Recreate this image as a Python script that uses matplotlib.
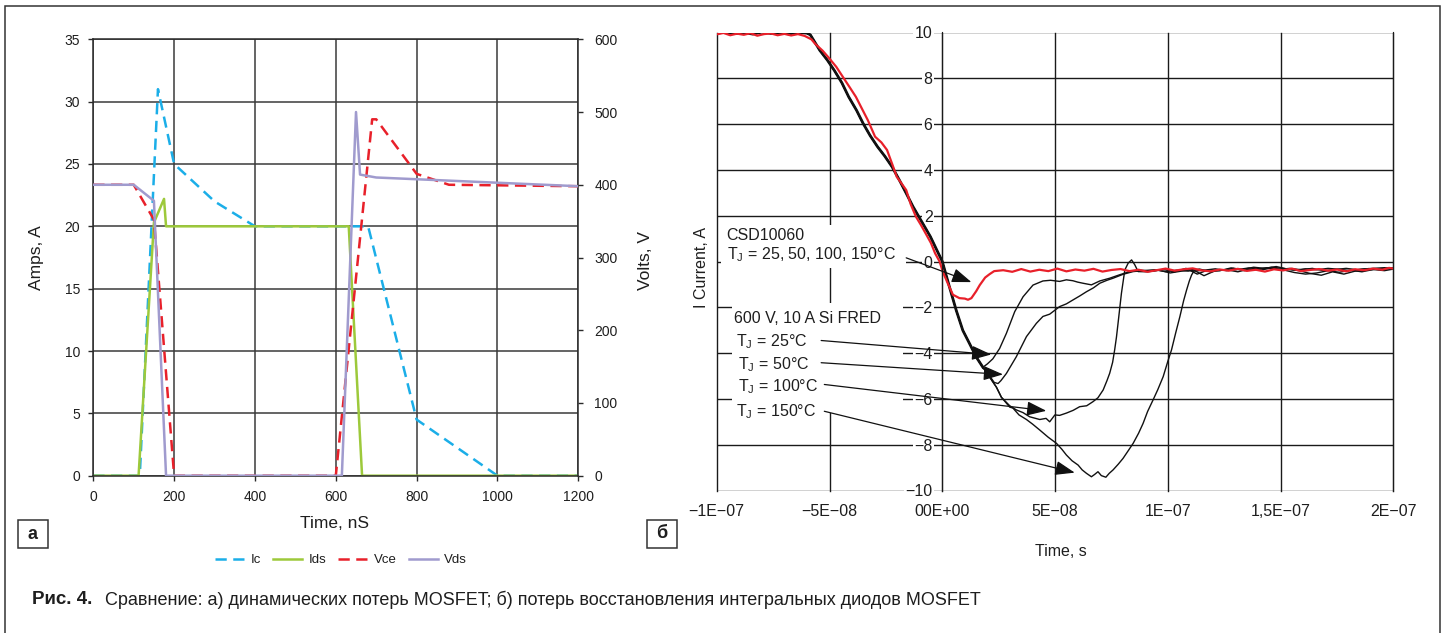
import numpy as np
import matplotlib
matplotlib.use('Agg')
import matplotlib.pyplot as plt
from matplotlib.patches import Rectangle

plt.rcParams['font.family'] = ['Liberation Sans', 'DejaVu Sans']
plt.rcParams['mathtext.fontset'] = 'custom'
plt.rcParams['mathtext.rm'] = 'Liberation Sans'
plt.rcParams['axes.unicode_minus'] = True

W, H = 1444, 633

# ---------- (а) MOSFET / IGBT switching waveforms ----------
ic_t = [0, 115, 160, 200, 300, 400, 680, 800, 1000, 1200]
ic_a = [0, 0, 31, 25, 22, 20, 20, 4.5, 0, 0]

ids_t = [0, 112, 150, 175, 180, 632, 665, 1200]
ids_a = [0, 0, 20.3, 22.2, 20, 20, 0, 0]

vce_t = [0, 100, 150, 200, 600, 690, 700, 800, 880, 1200]
vce_v = [400, 400, 352, 0, 0, 490, 490, 415, 400, 398]

vds_t = [0, 100, 150, 180, 615, 650, 660, 700, 1200]
vds_v = [400, 400, 378, 0, 0, 500, 414, 410, 398]

# ---------- (б) diode reverse recovery, time in units of 1e-8 s ----------
csd_x = [-10.0, -9.7, -9.4, -9.1, -8.8, -8.5, -8.2, -7.9, -7.6, -7.3, -7.0, -6.7,
         -6.4, -6.1, -5.8, -5.64, -5.3, -5.0, -4.7, -4.36, -4.1, -3.83, -3.55, -3.3,
         -2.98, -2.7, -2.45, -2.2, -2.02, -1.8, -1.6, -1.4, -1.17, -0.95, -0.74, -0.5,
         -0.32, -0.12, 0.03, 0.25, 0.47, 0.76, 1.0, 1.14, 1.29, 1.36, 1.5, 1.66, 1.9,
         2.1, 2.3, 2.7, 3.1, 3.5, 3.9, 4.3, 4.7, 5.1, 5.5, 5.9, 6.3, 6.7, 7.1, 7.5,
         7.9, 8.3, 8.7, 9.1, 9.5, 9.9, 10.3, 10.7, 11.1, 11.5, 11.9, 12.3, 12.7, 13.1,
         13.5, 13.9, 14.3, 14.7, 15.1, 15.5, 15.9, 16.3, 16.7, 17.1, 17.5, 17.9, 18.3,
         18.7, 19.1, 19.5, 19.8, 20.0]
csd_y = [9.92, 9.98, 9.88, 9.95, 9.9, 9.97, 9.86, 9.93, 9.96, 9.88, 9.94, 9.87,
         9.93, 9.85, 9.7, 9.51, 9.2, 8.86, 8.5, 7.99, 7.6, 7.19, 6.65, 6.17,
         5.45, 5.2, 4.87, 4.2, 3.7, 3.4, 3.12, 2.5, 1.96, 1.6, 1.23, 0.8,
         0.36, 0.0, -0.47, -0.97, -1.45, -1.6, -1.62, -1.67, -1.6, -1.5, -1.3, -1.03, -0.7,
         -0.55, -0.42, -0.38, -0.45, -0.33, -0.44, -0.36, -0.42, -0.31, -0.43, -0.35, -0.4, -0.32, -0.44, -0.37,
         -0.33, -0.42, -0.36, -0.45, -0.38, -0.31, -0.4, -0.34, -0.3, -0.39, -0.43, -0.35, -0.4, -0.32,
         -0.41, -0.36, -0.44, -0.34, -0.39, -0.31, -0.42, -0.37, -0.33, -0.4, -0.35, -0.43, -0.34,
         -0.38, -0.31, -0.36, -0.28, -0.31]

# common falling edge of the Si FRED traces
fred_x = [-10.0, -9.6, -9.2, -8.8, -8.4, -8.0, -7.6, -7.2, -6.8, -6.4, -6.0, -5.85,
          -5.43, -5.1, -4.79, -4.45, -4.15, -3.8, -3.51, -3.2, -2.87, -2.55, -2.23,
          -1.9, -1.6, -1.3, -0.96, -0.53, 0.0, 0.32, 0.62, 0.91, 1.21, 1.51, 1.8]
fred_y = [9.97, 10.02, 9.95, 10.0, 9.93, 10.02, 9.96, 10.0, 9.94, 10.01, 9.97, 9.9,
          9.22, 8.8, 8.35, 7.8, 7.19, 6.6, 6.03, 5.5, 5.01, 4.6, 4.14,
          3.55, 2.98, 2.4, 1.82, 1.09, 0.0, -1.12, -2.14, -3.01, -3.59, -4.18, -4.62]

t25_x = [2.0, 2.24, 2.54, 2.84, 3.21, 3.58, 4.02, 4.46, 4.8, 5.2, 5.5, 5.79, 6.0, 6.24,
         6.61, 6.98, 7.42, 7.86, 8.31, 8.8, 9.3, 9.8, 10.3, 10.8, 11.3, 11.8, 12.3,
         12.8, 13.3, 13.8, 14.3, 14.8, 15.3, 15.8, 16.3, 16.8, 17.3, 17.8, 18.3, 18.8,
         19.3, 19.8, 20.0]
t25_y = [-4.47, -4.25, -3.8, -3.14, -2.19, -1.54, -1.03, -0.85, -0.82, -0.87, -0.8, -0.84, -0.9, -0.95,
         -1.02, -0.85, -0.73, -0.58, -0.44, -0.38, -0.42, -0.35, -0.45, -0.3, -0.55, -0.36, -0.4,
         -0.28, -0.35, -0.25, -0.3, -0.22, -0.33, -0.4, -0.52, -0.6, -0.45, -0.55, -0.42, -0.38,
         -0.33, -0.3, -0.28]

t50_x = [2.1, 2.3, 2.47, 2.6, 2.84, 3.28, 3.73, 4.17, 4.46, 4.76, 5.2, 5.5, 5.79, 6.1,
         6.39, 6.7, 6.98, 7.3, 7.57, 8.01, 8.46, 8.9, 9.4, 9.9, 10.4, 10.9, 11.4, 11.9,
         12.4, 12.9, 13.4, 13.9, 14.4, 14.9, 15.4, 15.9, 16.4, 16.9, 17.4, 17.9, 18.4,
         18.9, 19.4, 20.0]
t50_y = [-5.0, -5.28, -5.33, -5.2, -4.89, -4.16, -3.28, -2.7, -2.4, -2.3, -1.97, -1.85, -1.68, -1.5,
         -1.32, -1.15, -0.95, -0.82, -0.73, -0.56, -0.44, -0.4, -0.36, -0.44, -0.38, -0.42, -0.33, -0.45,
         -0.38, -0.3, -0.4, -0.33, -0.27, -0.35, -0.3, -0.36, -0.3, -0.4, -0.35, -0.3, -0.36,
         -0.31, -0.35, -0.3]

t100_x = [2.1, 2.4, 2.62, 2.99, 3.28, 3.58, 3.87, 4.32, 4.6, 4.76, 4.99, 5.2, 5.5, 5.8,
          6.09, 6.4, 6.68, 6.9, 7.13, 7.3, 7.42, 7.55, 7.64, 7.72, 7.79, 7.87, 7.94, 8.09,
          8.24, 8.39, 8.53, 8.68, 9.1, 9.6, 10.1, 10.6, 11.1, 11.6, 12.1, 12.6, 13.1, 13.6,
          14.1, 14.6, 15.1, 15.6, 16.1, 16.6, 17.1, 17.6, 18.1, 18.6, 19.1, 19.6, 20.0]
t100_y = [-5.05, -5.49, -5.93, -6.3, -6.48, -6.6, -6.78, -6.9, -6.85, -7.0, -6.7, -6.72, -6.62, -6.5,
          -6.34, -6.3, -6.12, -5.95, -5.61, -5.2, -4.88, -4.4, -3.86, -3.3, -2.7, -2.0, -1.39, -0.37,
          -0.07, 0.07, -0.14, -0.44, -0.45, -0.38, -0.5, -0.42, -0.35, -0.62, -0.4, -0.36, -0.45, -0.33,
          -0.38, -0.28, -0.36, -0.48, -0.55, -0.5, -0.4, -0.47, -0.38, -0.45, -0.35, -0.4, -0.33]

t150_x = [2.1, 2.4, 2.62, 2.99, 3.13, 3.4, 3.73, 4.0, 4.32, 4.69, 5.06, 5.3, 5.5, 5.75,
          6.02, 6.2, 6.39, 6.61, 6.75, 6.9, 7.05, 7.25, 7.4, 7.57, 7.8, 8.01, 8.25, 8.46,
          8.7, 8.9, 9.1, 9.34, 9.55, 9.79, 10.0, 10.16, 10.35, 10.53, 10.7, 10.83, 10.95,
          11.05, 11.15, 11.6, 12.1, 12.6, 13.1, 13.6, 14.1, 14.6, 15.1, 15.6, 16.1, 16.6,
          17.1, 17.6, 18.1, 18.6, 19.1, 19.6, 20.0]
t150_y = [-5.05, -5.49, -5.93, -6.36, -6.4, -6.7, -6.9, -7.1, -7.36, -7.67, -7.94, -8.2, -8.45, -8.7,
          -8.89, -9.1, -9.25, -9.4, -9.3, -9.18, -9.35, -9.42, -9.25, -9.1, -8.85, -8.6, -8.25, -7.94,
          -7.5, -7.07, -6.55, -6.05, -5.6, -5.03, -4.35, -3.86, -3.1, -2.41, -1.7, -1.24, -0.85,
          -0.59, -0.42, -0.38, -0.32, -0.4, -0.35, -0.28, -0.33, -0.25, -0.3, -0.38, -0.32, -0.36,
          -0.3, -0.34, -0.4, -0.33, -0.3, -0.27, -0.3]

x_ticklabels = ['\u22121E\u221207', '\u22125E\u221208', '00E+00', '5E\u221208',
                '1E\u221207', '1,5E\u221207', '2E\u221207']

C_IC, C_IDS, C_VCE, C_VDS = '#1BAEE8', '#9DC93B', '#E8202A', '#A09BCE'
GRID = '#3a3a3a'
TXT = '#1e1e1e'

fig = plt.figure(figsize=(W / 100, H / 100), dpi=100)


def fbox(x0, y0, x1, y1):
    # pixel box (top-left origin) -> figure rect
    return [x0 / W, 1 - y1 / H, (x1 - x0) / W, (y1 - y0) / H]


# ===== left chart =====
ax1 = fig.add_axes(fbox(93.3, 39.3, 578.3, 475.7))
ax1.set_xlim(0, 1200)
ax1.set_ylim(0, 35)
ax1.set_xticks(range(0, 1201, 200))
ax1.set_yticks(range(0, 36, 5))
ax1.set_axisbelow(True)
ax1.grid(True, color=GRID, lw=1.1)
for s in ax1.spines.values():
    s.set_color('#2a2a2a')
    s.set_linewidth(1.1)
ax1.tick_params(direction='out', length=3.6, width=1, colors='#2a2a2a',
                labelsize=10, labelcolor=TXT)
ax1.tick_params(axis='y', pad=6)
ax1.tick_params(axis='x', pad=7)

ax2 = ax1.twinx()
ax2.set_ylim(0, 600)
ax2.set_yticks(range(0, 601, 100))
ax2.tick_params(direction='out', length=3.6, width=1, colors='#2a2a2a',
                labelsize=10, labelcolor=TXT, pad=8)
for s in ax2.spines.values():
    s.set_visible(False)

l_ic, = ax1.plot(ic_t, ic_a, color=C_IC, lw=1.8, dashes=(4.5, 2.6), label='Ic')
l_ids, = ax1.plot(ids_t, ids_a, color=C_IDS, lw=1.8, label='Ids')
l_vce, = ax2.plot(vce_t, vce_v, color=C_VCE, lw=1.8, dashes=(4.5, 2.6), label='Vce')
l_vds, = ax2.plot(vds_t, vds_v, color=C_VDS, lw=1.8, label='Vds')

fig.text(37 / W, 1 - 258 / H, 'Amps, A', rotation=90, ha='center', va='center',
         fontsize=12.5, color=TXT)
fig.text(646 / W, 1 - 261 / H, 'Volts, V', rotation=90, ha='center', va='center',
         fontsize=12.5, color=TXT)
fig.text(335 / W, 1 - 523 / H, 'Time, nS', ha='center', va='center',
         fontsize=12.5, color=TXT)

fig.legend(handles=[l_ic, l_ids, l_vce, l_vds], loc='center',
           bbox_to_anchor=(341 / W, 1 - 560 / H), ncol=4, frameon=False,
           fontsize=9.5, handlelength=2.2, handletextpad=0.5, columnspacing=0.9,
           labelcolor=TXT)

# ===== right chart =====
ax3 = fig.add_axes(fbox(716.7, 32.5, 1393.5, 490.5))
ax3.set_xlim(-1e-7, 2e-7)
ax3.set_ylim(-10, 10)
ax3.set_xticks(np.linspace(-1e-7, 2e-7, 7))
ax3.set_xticklabels(x_ticklabels)
ax3.set_yticks(range(-10, 11, 2))
ax3.set_axisbelow(True)
ax3.grid(True, color='#1a1a1a', lw=1.0)
for gl in ax3.get_xgridlines() + ax3.get_ygridlines():
    gl.set_clip_on(False)
ax3.spines['left'].set_position(('data', 0))
ax3.spines['left'].set_color('#1a1a1a')
ax3.spines['right'].set_color('#1a1a1a')
ax3.spines['top'].set_visible(False)
ax3.spines['bottom'].set_visible(False)
ax3.tick_params(axis='both', length=0, labelsize=11.5, labelcolor=TXT)
ax3.tick_params(axis='x', pad=10)
ax3.tick_params(axis='y', pad=7)
for lab in ax3.get_yticklabels():
    lab.set_bbox(dict(facecolor='white', edgecolor='none', pad=1.0))

# white backgrounds behind the annotation blocks
ax3.add_patch(Rectangle((-9.82e-8, -0.3), 8.22e-8, 1.9, facecolor='white',
                        edgecolor='none', zorder=1))
ax3.add_patch(Rectangle((-9.33e-8, -6.62), 7.58e-8, 4.82, facecolor='white',
                        edgecolor='none', zorder=1))

s = 1e-8
for tx, ty in [(t25_x, t25_y), (t50_x, t50_y), (t100_x, t100_y), (t150_x, t150_y)]:
    xx = np.concatenate([fred_x, tx]) * s
    yy = np.concatenate([fred_y, ty])
    ax3.plot(xx, yy, color='#111111', lw=1.0, zorder=2)
ax3.plot(np.array(fred_x) * s, fred_y, color='#111111', lw=2.0, zorder=2)
ax3.plot(np.array(csd_x) * s, csd_y, color=C_VCE, lw=1.6, zorder=2.2)

afs = 11.5
ax3.text(-9.56e-8, 0.92, 'CSD10060', fontsize=afs, color=TXT, va='baseline', zorder=4)
ax3.text(-9.56e-8, 0.09, r'T$_{\mathregular{J}}$ = 25, 50, 100, 150°C', fontsize=afs,
         color=TXT, va='baseline', zorder=4)
ax3.text(-9.22e-8, -2.68, '600 V, 10 A Si FRED', fontsize=afs, color=TXT,
         va='baseline', zorder=4)
labels_t = [(-9.14e-8, -3.70, '25'), (-9.07e-8, -4.69, '50'),
            (-9.07e-8, -5.66, '100'), (-9.14e-8, -6.76, '150')]
for lx, ly, tt in labels_t:
    ax3.text(lx, ly, r'T$_{\mathregular{J}}$ = ' + tt + '°C', fontsize=afs,
             color=TXT, va='baseline', zorder=4)

arrows = [((-1.6e-8, 0.16), (1.29e-8, -0.9)),
          ((-5.37e-8, -3.45), (2.17e-8, -4.06)),
          ((-5.37e-8, -4.42), (2.69e-8, -4.93)),
          ((-5.23e-8, -5.37), (4.61e-8, -6.52)),
          ((-5.23e-8, -6.54), (5.87e-8, -9.22))]
for start, tip in arrows:
    ax3.annotate('', xy=tip, xytext=start, zorder=3,
                 arrowprops=dict(arrowstyle='-|>,head_length=0.6,head_width=0.22',
                                 mutation_scale=20, color='#111111', lw=0.9,
                                 shrinkA=0, shrinkB=0))

fig.text(701 / W, 1 - 267 / H, 'I Current, A', rotation=90, ha='center', va='center',
         fontsize=11.5, color=TXT)
fig.text(1061 / W, 1 - 552 / H, 'Time, s', ha='center', va='center',
         fontsize=11.5, color=TXT)

# ===== panel letters, caption and frame =====
for (x0, y0, x1, y1), letter in [((18.3, 520, 47.7, 548.3), 'а'),
                                  ((647, 519.5, 677, 548), 'б')]:
    r = fbox(x0, y0, x1, y1)
    fig.add_artist(Rectangle((r[0], r[1]), r[2], r[3], transform=fig.transFigure,
                             facecolor='white', edgecolor='#333333', lw=1.1))
    fig.text((x0 + x1) / 2 / W, 1 - (y0 + y1) / 2 / H, letter, ha='center',
             va='center', fontsize=13, fontweight='bold', color=TXT)

fig.text(31.7 / W, 1 - 600 / H, 'Рис. 4.', fontsize=13.5, fontweight='bold',
         ha='left', va='center', color=TXT)
fig.text(105 / W, 1 - 600 / H,
         'Сравнение: а) динамических потерь MOSFET; б) потерь восстановления '
         'интегральных диодов MOSFET',
         fontsize=13, ha='left', va='center', color=TXT)

fr = fbox(5, 6, 1440, 660)
fig.add_artist(Rectangle((fr[0], fr[1]), fr[2], fr[3], transform=fig.transFigure,
                         facecolor='none', edgecolor='#333333', lw=1.1))

fig.savefig('out.png', dpi=100)
